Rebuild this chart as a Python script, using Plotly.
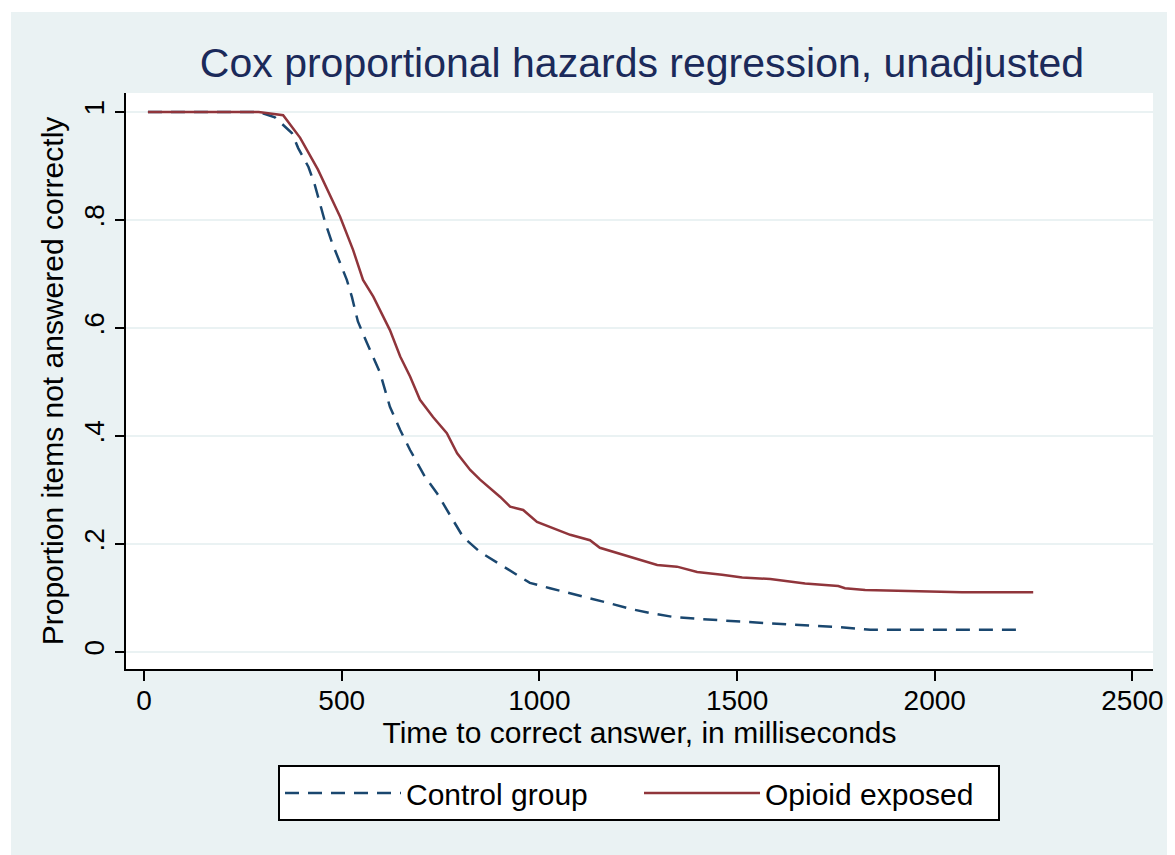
import plotly.graph_objects as go

# ---- data ----
control_t = [10, 290, 331, 374, 390, 416, 432, 445, 458, 475, 496, 513, 526, 541, 564, 597, 622,
             648, 673, 711, 741, 766, 807, 850, 893, 934, 976, 1027, 1078, 1128, 1179, 1229,
             1280, 1338, 1406, 1584, 1761, 1837, 2224]
control_v = [1.0, 1.0, 0.99, 0.961, 0.933, 0.898, 0.865, 0.831, 0.796, 0.759, 0.722, 0.689, 0.657,
             0.612, 0.572, 0.517, 0.454, 0.411, 0.374, 0.324, 0.294, 0.263, 0.213, 0.185, 0.165,
             0.146, 0.128, 0.118, 0.109, 0.100, 0.090, 0.080, 0.072, 0.065, 0.061, 0.053, 0.046,
             0.041, 0.041]

opioid_t = [10, 290, 352, 395, 440, 496, 529, 554, 580, 605, 622, 648, 673, 698, 731, 766, 792,
            825, 850, 901, 926, 959, 994, 1078, 1128, 1153, 1229, 1298, 1348, 1399, 1462, 1513,
            1584, 1622, 1672, 1756, 1773, 1824, 2069, 2249]
opioid_v = [1.0, 1.0, 0.994, 0.952, 0.893, 0.806, 0.744, 0.689, 0.658, 0.621, 0.596, 0.547, 0.51,
            0.467, 0.435, 0.405, 0.368, 0.337, 0.319, 0.287, 0.269, 0.263, 0.241, 0.217, 0.207,
            0.193, 0.176, 0.161, 0.158, 0.148, 0.143, 0.138, 0.135, 0.131, 0.127, 0.122, 0.118,
            0.115, 0.1105, 0.1105]

x_ticks = [0, 500, 1000, 1500, 2000, 2500]
y_ticks = [0, 0.2, 0.4, 0.6, 0.8, 1.0]
y_tick_labels = ["0", ".2", ".4", ".6", ".8", "1"]

title_text = "Cox proportional hazards regression, unadjusted"
x_title = "Time to correct answer, in milliseconds"
y_title = "Proportion items not answered correctly"

NAVY = "#1a476f"
MAROON = "#90353b"
BG = "#EAF2F3"
FONT = "Liberation Sans, Arial, sans-serif"

fig = go.Figure()
fig.add_trace(go.Scatter(x=control_t, y=control_v, mode="lines", name="Control group",
                         line=dict(color=NAVY, width=2.5, dash="14px,9px")))
fig.add_trace(go.Scatter(x=opioid_t, y=opioid_v, mode="lines", name="Opioid exposed",
                         line=dict(color=MAROON, width=2.5)))

# page has an 8px body margin; figure is laid out in figure pixels (page - 8)
OFF = 8
W, H = 1175 - OFF, 855 - OFF
L, R, T, B = 126 - OFF, 22, 93 - OFF, 186
PW, PH = W - L - R, H - T - B

def px_x(p):
    return (p - OFF - L) / PW

def px_y(p):
    return (H - B - (p - OFF)) / PH

# white strips outside the light graph region (top and left edges)
fig.add_shape(type="rect", xref="paper", yref="paper", x0=px_x(OFF), x1=px_x(1175),
              y0=px_y(12), y1=px_y(OFF), fillcolor="white", line=dict(width=0), layer="below")
fig.add_shape(type="rect", xref="paper", yref="paper", x0=px_x(OFF), x1=px_x(11),
              y0=px_y(855), y1=px_y(OFF), fillcolor="white", line=dict(width=0), layer="below")

fig.update_layout(
    width=W, height=H,
    margin=dict(l=L, r=R, t=T, b=B, autoexpand=False),
    paper_bgcolor=BG,
    plot_bgcolor="white",
    font=dict(family=FONT, color="black", size=28),
    title=dict(text=title_text, x=(642 - OFF) / W, xanchor="center",
               y=1 - (63 - OFF) / H, yanchor="middle",
               font=dict(size=41, color="#1b2a5a", family=FONT)),
    showlegend=True,
    legend=dict(orientation="h", x=px_x(639), xanchor="center",
                y=px_y(793), yanchor="middle",
                bgcolor="white", bordercolor="black", borderwidth=2,
                itemwidth=116, entrywidth=228,
                font=dict(size=30, family=FONT, color="black")),
)

fig.update_xaxes(range=[-45.5, 2552], tickvals=x_ticks, ticks="outside", ticklen=10,
                 tickwidth=2, tickcolor="black", showline=True, linecolor="black", linewidth=2,
                 showgrid=False, zeroline=False, tickfont=dict(size=28), automargin=False,
                 ticklabelstandoff=-5,
                 title=dict(text=x_title, standoff=2, font=dict(size=30)))
fig.update_yaxes(range=[-0.0315, 1.035], tickvals=y_ticks, ticktext=y_tick_labels,
                 tickangle=-90, ticks="outside", ticklen=9, tickwidth=2, tickcolor="black",
                 showline=True, linecolor="black", linewidth=2, showgrid=True,
                 gridcolor=BG, gridwidth=2, zeroline=False, tickfont=dict(size=28),
                 automargin=False,
                 title=dict(text=y_title, standoff=6, font=dict(size=30)))

fig.write_html("out.html")
